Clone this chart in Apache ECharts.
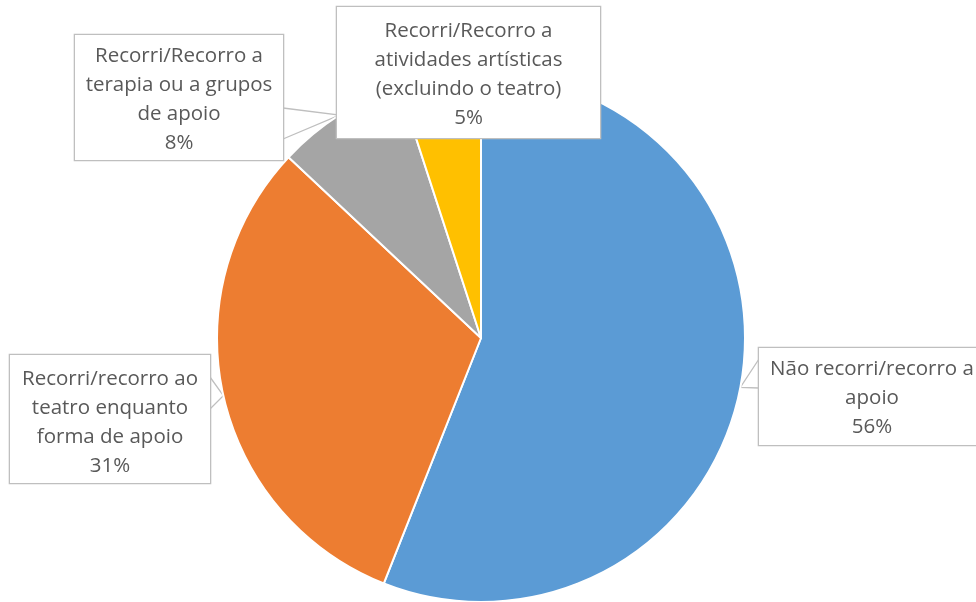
<!DOCTYPE html>
<html>
<head>
<meta charset="utf-8">
<script src="https://cdn.jsdelivr.net/npm/echarts@6/dist/echarts.min.js"></script>
<style>
  html, body { margin: 0; padding: 0; background: #ffffff; }
  #chart { width: 976px; height: 602px; }
</style>
</head>
<body>
<div id="chart"></div>
<script>
// Survey answers: use of support (shares in %)
const categories = [
  'Não recorri/recorro a\napoio',
  'Recorri/recorro ao\nteatro enquanto\nforma de apoio',
  'Recorri/Recorro a\nterapia ou a grupos\nde apoio',
  'Recorri/Recorro a\natividades artísticas\n(excluindo o teatro)'
];
const values = [56, 31, 8, 5];
const colors = ['#5B9BD5', '#ED7D31', '#A5A5A5', '#FFC000'];

// Callout boxes: centre x, top, width, height, text nudge, pointer base offsets from the top
const callouts = [
  { cx: 872, top: 348, w: 226, h: 97, shift: 2, base: [11, 40] },
  { cx: 110, top: 355, w: 200, h: 128, shift: 3.5, base: [22, 54] },
  { cx: 179, top: 35, w: 208, h: 125, shift: 2, base: [73, 104] },
  { cx: 468.5, top: 7, w: 263, h: 131, shift: 2, base: null }
];

const LINE_H = 29;
const PIE_CENTER = [481, 338];
const PIE_R = 264;

const total = values.reduce((a, b) => a + b, 0);
function sliceEdgePoint(i) {
  let cum = 0;
  for (let k = 0; k < i; k++) cum += values[k];
  const frac = (cum + values[i] / 2) / total;
  const a = frac * Math.PI * 2;
  return [PIE_CENTER[0] + PIE_R * Math.sin(a), PIE_CENTER[1] - PIE_R * Math.cos(a)];
}

const data = categories.map((name, i) => {
  const c = callouts[i];
  const lines = name.split('\n').length + 1;
  const pad = Math.max(0, (c.h - lines * LINE_H) / 2);
  return {
    name: name,
    value: values[i],
    itemStyle: { color: colors[i] },
    label: { width: c.w, padding: [pad + c.shift, 0, pad - c.shift, 0] },
    labelLine: { show: !!c.base }
  };
});

const chart = echarts.init(document.getElementById('chart'), null, { renderer: 'canvas' });
chart.setOption({
  animation: false,
  backgroundColor: '#ffffff',
  series: [{
    type: 'pie',
    center: PIE_CENTER,
    radius: PIE_R,
    startAngle: 90,
    clockwise: true,
    avoidLabelOverlap: false,
    data: data,
    itemStyle: { borderColor: '#ffffff', borderWidth: 2 },
    emphasis: { disabled: true },
    label: {
      show: true,
      position: 'outside',
      formatter: p => p.name + '\n' + p.value + '%',
      fontFamily: 'Open Sans',
      fontSize: 20.5,
      lineHeight: LINE_H,
      color: '#595959',
      align: 'center',
      backgroundColor: '#ffffff',
      borderColor: '#BFBFBF',
      borderWidth: 1.3
    },
    labelLine: {
      show: true,
      smooth: false,
      lineStyle: { color: '#BFBFBF', width: 1.3 }
    },
    labelLayout: function (params) {
      const i = params.dataIndex;
      const c = callouts[i];
      const out = { x: c.cx, y: c.top, align: 'center', verticalAlign: 'top' };
      if (c.base) {
        const tip = sliceEdgePoint(i);
        const edgeX = tip[0] < c.cx ? c.cx - c.w / 2 : c.cx + c.w / 2;
        out.labelLinePoints = [
          [edgeX, c.top + c.base[0]],
          tip,
          [edgeX, c.top + c.base[1]]
        ];
      }
      return out;
    }
  }]
});
</script>
</body>
</html>
